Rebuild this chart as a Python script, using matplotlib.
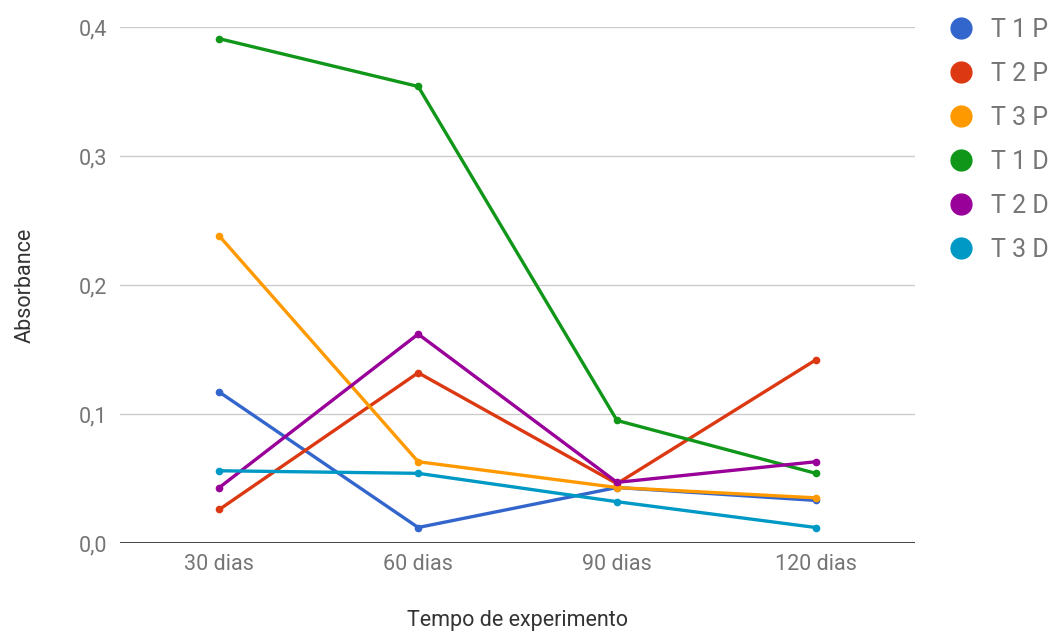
import matplotlib.pyplot as plt
from matplotlib.lines import Line2D

plt.rcParams['font.family'] = ['Roboto', 'DejaVu Sans']

tempos = ['30 dias', '60 dias', '90 dias', '120 dias']
series_names = ['T 1 P', 'T 2 P', 'T 3 P', 'T 1 D', 'T 2 D', 'T 3 D']
t1p = [0.117, 0.012, 0.043, 0.033]
t2p = [0.026, 0.132, 0.046, 0.142]
t3p = [0.238, 0.063, 0.043, 0.035]
t1d = [0.391, 0.354, 0.095, 0.054]
t2d = [0.043, 0.162, 0.047, 0.063]
t3d = [0.056, 0.054, 0.032, 0.012]
yticks = [0.0, 0.1, 0.2, 0.3, 0.4]

colors = ['#3366cc', '#dc3912', '#ff9900', '#109618', '#990099', '#0099c6']
all_series = [t1p, t2p, t3p, t1d, t2d, t3d]

fig = plt.figure(figsize=(10.52, 6.31), dpi=100)
ax = fig.add_axes([0.114, 0.1395, 0.756, 0.8175])

x = list(range(len(tempos)))
for vals, c, name in zip(all_series, colors, series_names):
    ax.plot(x, vals, color=c, lw=2.4, marker='o', ms=4.5, label=name,
            solid_capstyle='round', zorder=3)

ax.set_xlim(-0.5, 3.5)
ax.set_ylim(0, 0.4)
ax.set_yticks(yticks)
ax.set_yticklabels([f'{v:.1f}'.replace('.', ',') for v in yticks])
ax.set_xticks(x)
ax.set_xticklabels(tempos)
ax.grid(axis='y', color='#cccccc', lw=1)
ax.axhline(0, color='#333333', lw=1.3, zorder=4)
ax.set_axisbelow(True)
for s in ax.spines.values():
    s.set_visible(False)
ax.tick_params(axis='both', length=0, labelsize=15.5, colors='#757575')
ax.tick_params(axis='y', pad=9)
ax.tick_params(axis='x', pad=8)
ax.set_ylabel('Absorbance', fontsize=15.5, color='#333333', labelpad=31.5)
ax.set_xlabel('Tempo de experimento', fontsize=15.5, color='#333333', labelpad=25)

handles = [Line2D([], [], ls='none', marker='o', ms=15, color=c) for c in colors]
fig.legend(handles, series_names, loc='upper left', bbox_to_anchor=(0.902, 0.972),
           frameon=False, fontsize=18, labelcolor='#757575', handletextpad=0.7,
           labelspacing=0.8, handlelength=1.0, borderpad=0, borderaxespad=0)

fig.savefig('out.png', dpi=100)
